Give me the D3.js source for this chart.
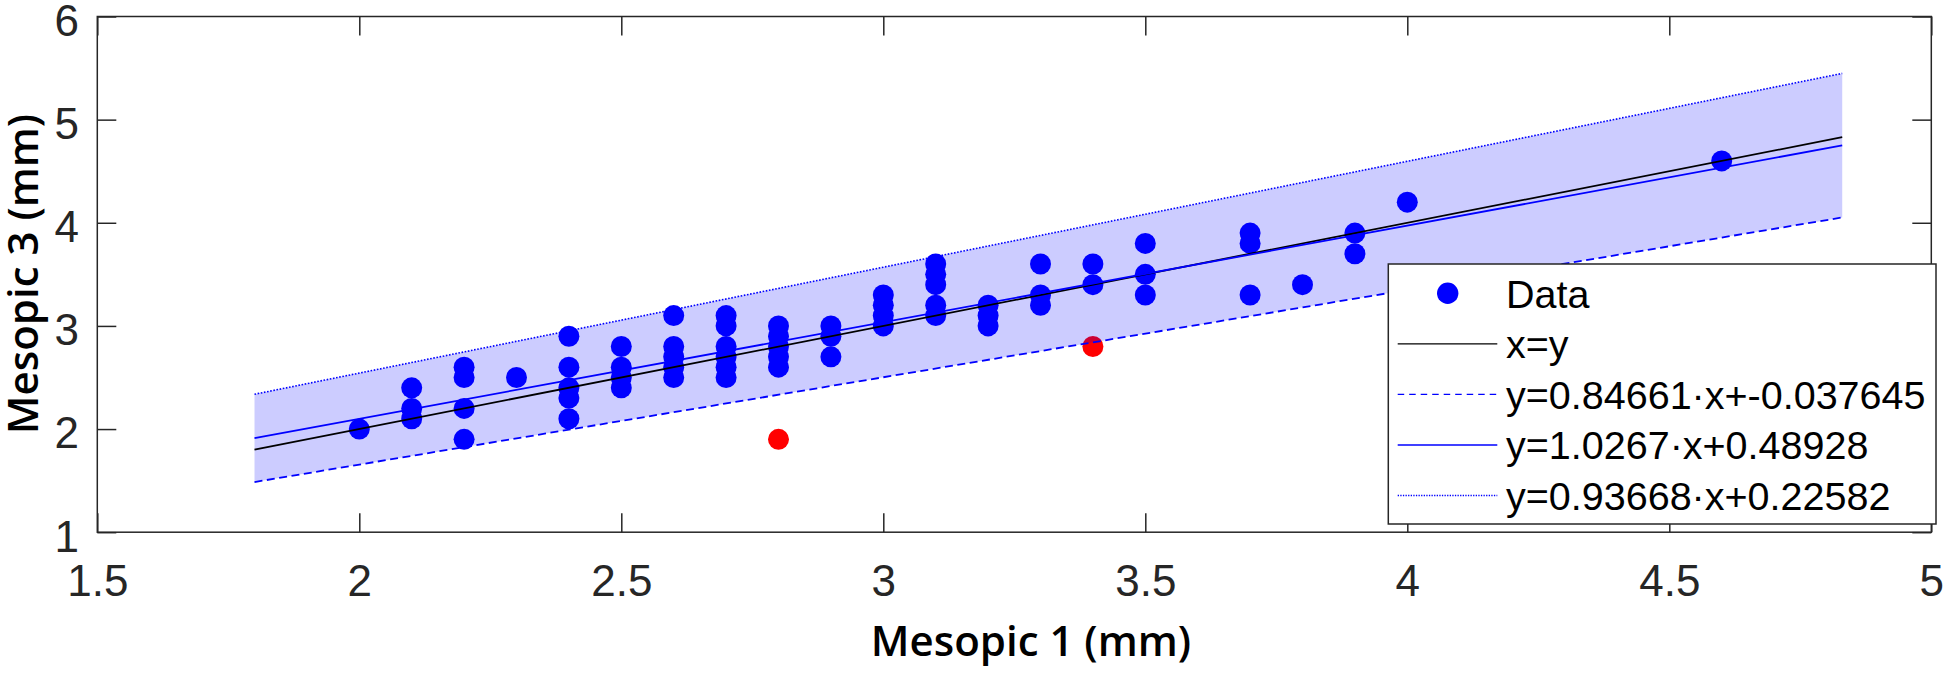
<!DOCTYPE html>
<html>
<head>
<meta charset="utf-8">
<script src="https://cdn.jsdelivr.net/npm/d3@7"></script>
<style>
  html, body { margin: 0; padding: 0; background: #fff; }
  svg { display: block; }
</style>
</head>
<body>
<svg id="chart" width="1946" height="674"></svg>
<script>
// ---------------- data ----------------
const blueX = [2.0,
  2.1, 2.1, 2.1,
  2.2, 2.2, 2.2, 2.2,
  2.3,
  2.4, 2.4, 2.4, 2.4, 2.4,
  2.5, 2.5, 2.5, 2.5,
  2.6, 2.6, 2.6, 2.6, 2.6,
  2.7, 2.7, 2.7, 2.7, 2.7, 2.7,
  2.8, 2.8, 2.8, 2.8, 2.8,
  2.9, 2.9, 2.9,
  3.0, 3.0, 3.0, 3.0,
  3.1, 3.1, 3.1, 3.1, 3.1,
  3.2, 3.2, 3.2,
  3.3, 3.3, 3.3,
  3.4, 3.4,
  3.5, 3.5, 3.5,
  3.7, 3.7, 3.7,
  3.8,
  3.9, 3.9,
  4.0,
  4.6];
const blueY = [2.0,
  2.4, 2.2, 2.1,
  2.6, 2.5, 2.2, 1.9,
  2.5,
  2.9, 2.6, 2.4, 2.3, 2.1,
  2.8, 2.6, 2.5, 2.4,
  3.1, 2.8, 2.7, 2.6, 2.5,
  3.1, 3.0, 2.8, 2.7, 2.6, 2.5,
  3.0, 2.9, 2.8, 2.7, 2.6,
  3.0, 2.9, 2.7,
  3.3, 3.2, 3.1, 3.0,
  3.6, 3.5, 3.4, 3.2, 3.1,
  3.2, 3.1, 3.0,
  3.6, 3.3, 3.2,
  3.6, 3.4,
  3.8, 3.5, 3.3,
  3.9, 3.8, 3.3,
  3.4,
  3.9, 3.7,
  4.2,
  4.6];
const redX = [2.8, 3.4];
const redY = [1.9, 2.8];

// line extent (x) and fitted lines (lower limit, fit, upper limit)
const lineX = [1.8, 4.83];
const fitSlopes = [0.84661, 0.93668, 1.0267];
const fitIntercepts = [-0.037645, 0.22582, 0.48928];
const fitStyles = ["dashed", "solid", "dotted"];

const xTicks = [1.5, 2, 2.5, 3, 3.5, 4, 4.5, 5];
const yTicks = [1, 2, 3, 4, 5, 6];
const xLabelText = "Mesopic 1 (mm)";
const yLabelText = "Mesopic 3 (mm)";
const legendLabels = ["Data", "x=y", "y=0.84661·x+-0.037645", "y=1.0267·x+0.48928", "y=0.93668·x+0.22582"];
const legendStyles = ["marker", "black", "dashed", "solid", "dotted"];

// ---------------- layout ----------------
const svg = d3.select("#chart");
const L = 97.3, R = 1931.3, T = 16.5, B = 532.2;
const x = d3.scaleLinear().domain([1.5, 5]).range([L, R]);
const y = d3.scaleLinear().domain([1, 6]).range([B, T]);
const axisColor = "#262626";
const tickFont = "'Liberation Sans', Arial, sans-serif";
const dashes = { dashed: "8,4.5", solid: null, dotted: "1.6,1.6" };

svg.append("rect").attr("width", 1946).attr("height", 674).attr("fill", "#fff");

// data points (red first so band tints them)
const pts = svg.append("g");
pts.selectAll("circle.red").data(redX.map((d, i) => [d, redY[i]])).enter()
  .append("circle").attr("class", "red")
  .attr("cx", d => x(d[0])).attr("cy", d => y(d[1])).attr("r", 10.5).attr("fill", "#ff0000");
pts.selectAll("circle.blue").data(blueX.map((d, i) => [d, blueY[i]])).enter()
  .append("circle").attr("class", "blue")
  .attr("cx", d => x(d[0])).attr("cy", d => y(d[1])).attr("r", 10.5).attr("fill", "#0000ff");

// shaded band between lower and upper limits
const lower = xv => fitSlopes[0] * xv + fitIntercepts[0];
const upper = xv => fitSlopes[2] * xv + fitIntercepts[2];
svg.append("path")
  .datum(lineX)
  .attr("d", d3.area().x(d => x(d)).y0(d => y(lower(d))).y1(d => y(upper(d))))
  .attr("fill", "#0000ff").attr("fill-opacity", 0.2).attr("stroke", "none");

// x = y line
const line = d3.line().x(d => x(d[0])).y(d => y(d[1]));
svg.append("path").datum(lineX.map(v => [v, v]))
  .attr("d", line).attr("stroke", "#000").attr("stroke-width", 1.8).attr("fill", "none");

// fitted lines
fitSlopes.forEach((s, i) => {
  const p = svg.append("path").datum(lineX.map(v => [v, s * v + fitIntercepts[i]]))
    .attr("d", line).attr("stroke", "#0000ff").attr("stroke-width", fitStyles[i] === "dotted" ? 1.6 : 1.8)
    .attr("fill", "none");
  if (dashes[fitStyles[i]]) p.attr("stroke-dasharray", dashes[fitStyles[i]]);
});

// axes
const fmt = d3.format("~g");
const gx = svg.append("g").attr("transform", `translate(0,${B})`)
  .call(d3.axisBottom(x).tickValues(xTicks).tickFormat(fmt).tickSizeInner(-19).tickSizeOuter(0).tickPadding(32.5));
const gy = svg.append("g").attr("transform", `translate(${L},0)`)
  .call(d3.axisLeft(y).tickValues(yTicks).tickFormat(fmt).tickSizeInner(-19).tickSizeOuter(0).tickPadding(18.3));
const gt = svg.append("g").attr("transform", `translate(0,${T})`)
  .call(d3.axisTop(x).tickValues(xTicks).tickFormat("").tickSizeInner(-19).tickSizeOuter(0));
const gr = svg.append("g").attr("transform", `translate(${R},0)`)
  .call(d3.axisRight(y).tickValues(yTicks).tickFormat("").tickSizeInner(-19).tickSizeOuter(0));
[gx, gy, gt, gr].forEach(g => {
  g.select(".domain").remove();
  g.selectAll(".tick line").attr("stroke", axisColor).attr("stroke-width", 1.5);
  g.selectAll(".tick text").attr("fill", axisColor).attr("font-family", tickFont).attr("font-size", 44);
});
gy.selectAll(".tick text").attr("dy", "0.43em");
svg.append("rect").attr("x", L).attr("y", T).attr("width", R - L).attr("height", B - T)
  .attr("fill", "none").attr("stroke", axisColor).attr("stroke-width", 1.5);

// axis labels
const labelFont = "'Open Sans', 'Noto Sans', sans-serif";
svg.append("text").attr("x", 1031).attr("y", 656).attr("text-anchor", "middle")
  .attr("font-family", labelFont).attr("font-weight", 600).attr("font-size", 42).attr("fill", "#000").text(xLabelText);
svg.append("text").attr("transform", "translate(37.5,274) rotate(-90)").attr("text-anchor", "middle")
  .attr("font-family", labelFont).attr("font-weight", 600).attr("font-size", 42).attr("fill", "#000").text(yLabelText);

// legend
const lg = svg.append("g");
lg.append("rect").attr("x", 1388.3).attr("y", 264).attr("width", 1936 - 1388.3).attr("height", 524 - 264)
  .attr("fill", "#fff").attr("stroke", axisColor).attr("stroke-width", 1.5);
const rowY0 = 293.3, rowStep = 50.55;
legendLabels.forEach((lab, i) => {
  const cy = rowY0 + i * rowStep;
  const st = legendStyles[i];
  if (st === "marker") {
    lg.append("circle").attr("cx", 1447.7).attr("cy", cy).attr("r", 10.7).attr("fill", "#0000ff");
  } else {
    const l = lg.append("line").attr("x1", 1397.7).attr("x2", 1497.3).attr("y1", cy).attr("y2", cy)
      .attr("stroke", st === "black" ? "#000" : "#0000ff").attr("stroke-width", 1.4);
    if (st === "dashed") l.attr("stroke-dasharray", "6.5,5");
    if (st === "dotted") l.attr("stroke-dasharray", "1.3,1.3");
  }
  lg.append("text").attr("x", 1506).attr("y", cy + 14.5)
    .attr("font-family", tickFont).attr("font-size", 39.5).attr("fill", "#000").text(lab);
});
</script>
</body>
</html>
